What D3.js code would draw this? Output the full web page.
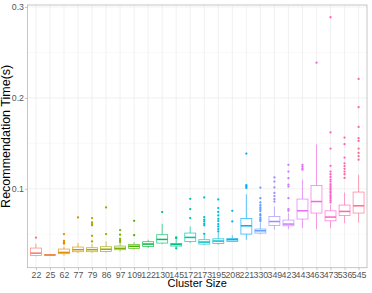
<!DOCTYPE html>
<html><head><meta charset="utf-8">
<script src="https://cdn.jsdelivr.net/npm/d3@7"></script>
<style>body{margin:0;background:#fff}text{font-family:"Liberation Sans",Arial,sans-serif}</style>
</head><body><svg id="c" width="372" height="293"></svg>
<script>
const clusterSizes = ["22","25","62","77","79","86","97","109","122","130","145","172","173","195","208","221","330","349","423","443","463","473","536","545"];
const lowerWhisker = [0.0256,0.0263,0.0264,0.0293,0.0297,0.0300,0.0311,0.0330,0.0348,0.0392,0.0352,0.0403,0.0381,0.0385,0.0415,0.0440,0.0502,0.0550,0.0557,0.0568,0.0557,0.0568,0.0623,0.0630];
const q1 = [0.0267,0.0268,0.0286,0.0308,0.0308,0.0311,0.0330,0.0344,0.0366,0.0403,0.0370,0.0421,0.0392,0.0399,0.0421,0.0502,0.0513,0.0597,0.0593,0.0667,0.0733,0.0648,0.0707,0.0733];
const median = [0.0292,0.0272,0.0300,0.0330,0.0330,0.0335,0.0345,0.0368,0.0392,0.0443,0.0388,0.0465,0.0414,0.0425,0.0440,0.0593,0.0538,0.0640,0.0612,0.0758,0.0860,0.0689,0.0751,0.0813];
const q3 = [0.0348,0.0276,0.0337,0.0359,0.0352,0.0363,0.0370,0.0388,0.0418,0.0495,0.0399,0.0513,0.0440,0.0450,0.0454,0.0674,0.0557,0.0696,0.0656,0.0887,0.1036,0.0758,0.0821,0.0964];
const upperWhisker = [0.0396,0.0282,0.0366,0.0403,0.0392,0.0421,0.0399,0.0414,0.0440,0.0615,0.0440,0.0586,0.0513,0.0513,0.0490,0.0940,0.0630,0.0806,0.0733,0.1100,0.1487,0.0824,0.0959,0.1154];
const outliers = [
  [0.0462],
  [],
  [0.0502,0.0428,0.0414,0.0405,0.0396],
  [0.0685],
  [0.0678,0.0630,0.0612,0.0600,0.0483,0.0421],
  [0.0795,0.0502],
  [0.0546,0.0495,0.0450,0.0432,0.0414],
  [0.0648,0.0490],
  [],
  [0.0744],
  [0.0465,0.0455,0.0345],
  [0.0678,0.0777,0.0890],
  [0.0905,0.0689,0.0660,0.0640,0.0615,0.0598,0.0505],
  [0.0883,0.0788,0.0745,0.0707,0.0670,0.0645,0.0612,0.0585,0.0557,0.0530],
  [0.0758,0.0641],
  [0.1388,0.1040,0.1025,0.1010],
  [0.1014,0.0897,0.0850,0.0820,0.0795,0.0775,0.0755,0.0720,0.0705,0.0680,0.0660,0.0645],
  [0.1125,0.1080,0.1015,0.0955,0.0920,0.0885,0.0860],
  [0.1264,0.1190,0.1117,0.1045,0.1025,0.0897,0.0775,0.0758],
  [0.1264,0.1245,0.1225,0.1210],
  [0.2388],
  [0.2887,0.1620,0.1443,0.1253,0.1190,0.1160,0.1130,0.1100,0.1080,0.1050,0.1030,0.1010,0.0990,0.0970,0.0955,0.0930,0.0910,0.0890,0.0870,0.0850],
  [0.1564,0.1491,0.1344,0.1280,0.1250,0.1220,0.1190,0.1160,0.1120],
  [0.2209,0.1898,0.1681,0.1557,0.1527,0.1443,0.1395,0.1360,0.1320]
];
const yTicks = [0.1,0.2,0.3];
const yMinor = [0.05,0.15,0.25];

function hclLuv(h,c,l){
  const hr=h*Math.PI/180, U=c*Math.cos(hr), V=c*Math.sin(hr);
  const Y = l>8 ? Math.pow((l+16)/116,3) : l/903.3;
  const un=0.1978398, vn=0.4683363;
  const u=U/(13*l)+un, v=V/(13*l)+vn;
  const X=9*Y*u/(4*v), Z=-X/3-5*Y+3*Y/v;
  const lin=[3.240479*X-1.537150*Y-0.498535*Z, -0.969256*X+1.875992*Y+0.041556*Z, 0.055648*X-0.204043*Y+1.057311*Z];
  const g=lin.map(x=>{x = x<=0.0031308?12.92*x:1.055*Math.pow(x,1/2.4)-0.055; return Math.round(Math.max(0,Math.min(1,x))*255);});
  return d3.rgb(g[0],g[1],g[2]).formatHex();
}
const n=clusterSizes.length;
const colors=clusterSizes.map((d,i)=>hclLuv(15+360*i/n,100,65));

const L=27.5,R=367,T=5,B=267.7;
const svg=d3.select("#c");
const x=d3.scalePoint().domain(clusterSizes).range([L,R]).padding(0.6);
const y=d3.scaleLinear().domain([0.0132,0.3022]).range([B,T]);
const step=x.step(), bw=step*0.78;

const g=svg.append("g");
g.selectAll(".ymin").data(yMinor).join("line").attr("x1",L).attr("x2",R).attr("y1",d=>y(d)).attr("y2",d=>y(d)).attr("stroke","#f3f3f3").attr("stroke-width",0.5);
g.selectAll(".ymaj").data(yTicks).join("line").attr("x1",L).attr("x2",R).attr("y1",d=>y(d)).attr("y2",d=>y(d)).attr("stroke","#ebebeb").attr("stroke-width",0.7);
g.selectAll(".xmaj").data(clusterSizes).join("line").attr("x1",d=>x(d)).attr("x2",d=>x(d)).attr("y1",T).attr("y2",B).attr("stroke","#ebebeb").attr("stroke-width",0.7);

const boxes=svg.append("g").selectAll("g").data(clusterSizes).join("g");
boxes.append("line").attr("x1",d=>x(d)).attr("x2",d=>x(d)).attr("y1",(d,i)=>y(upperWhisker[i])).attr("y2",(d,i)=>y(q3[i])).attr("stroke",(d,i)=>colors[i]).attr("stroke-width",0.8).attr("stroke-opacity",0.8);
boxes.append("line").attr("x1",d=>x(d)).attr("x2",d=>x(d)).attr("y1",(d,i)=>y(q1[i])).attr("y2",(d,i)=>y(lowerWhisker[i])).attr("stroke",(d,i)=>colors[i]).attr("stroke-width",0.8).attr("stroke-opacity",0.8);
boxes.append("rect").attr("x",d=>x(d)-bw/2).attr("width",bw).attr("y",(d,i)=>y(q3[i])).attr("height",(d,i)=>Math.max(0.5,y(q1[i])-y(q3[i]))).attr("fill","#fff").attr("stroke",(d,i)=>colors[i]).attr("stroke-width",0.8).attr("stroke-opacity",0.8);
boxes.append("line").attr("x1",d=>x(d)-bw/2).attr("x2",d=>x(d)+bw/2).attr("y1",(d,i)=>y(median[i])).attr("y2",(d,i)=>y(median[i])).attr("stroke",(d,i)=>colors[i]).attr("stroke-width",1.5);
boxes.each(function(d,i){
  d3.select(this).selectAll("circle").data(outliers[i]).join("circle").attr("cx",x(d)).attr("cy",v=>y(v)).attr("r",1.15).attr("fill",colors[i]);
});

// panel border
svg.append("rect").attr("x",L).attr("y",T).attr("width",R-L).attr("height",B-T).attr("fill","none").attr("stroke","#b8b8b8").attr("stroke-width",0.8);

// axes
const ya=svg.append("g").attr("transform",`translate(${L},0)`).call(d3.axisLeft(y).tickValues(yTicks).tickSize(2.5).tickPadding(1).tickFormat(d3.format(".1f")));
const xa=svg.append("g").attr("transform",`translate(0,${B})`).call(d3.axisBottom(x).tickSize(2.5).tickPadding(1.5));
[ya,xa].forEach(a=>{a.select(".domain").remove();a.selectAll(".tick line").attr("stroke","#b8b8b8").attr("stroke-width",0.8);a.selectAll("text").attr("fill","#555").style("font-size","8.8px").style("font-family","Liberation Sans, Arial, sans-serif");});

svg.append("text").attr("x",(L+R)/2).attr("y",287).attr("text-anchor","middle").style("font-size","11px").attr("fill","#000").text("Cluster Size");
svg.append("text").attr("transform",`translate(10,${(T+B)/2}) rotate(-90)`).attr("text-anchor","middle").style("font-size","12.5px").attr("fill","#000").text("Recommendation Time(s)");
</script></body></html>
